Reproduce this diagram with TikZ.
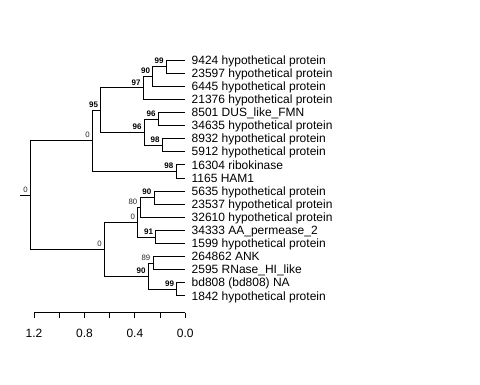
\documentclass[tikz,border=0pt]{standalone}
\usepackage{fontspec}
\setmainfont{Liberation Sans}
\tikzset{
  branch/.style={draw=black, line width=0.9pt},
  leaf/.style={anchor=base west, inner sep=0pt, font=\fontsize{12}{14}\selectfont},
  boot/.style={anchor=south east, inner sep=0pt, font=\fontsize{8}{9}\selectfont\bfseries},
  weak/.style={anchor=south east, inner sep=0pt, text=black!85, font=\fontsize{7.8}{9}\selectfont},
  axlab/.style={anchor=base, inner sep=0pt, font=\fontsize{12}{14}\selectfont}
}

\begin{document}
\begin{tikzpicture}[x=1pt, y=-1pt]
\useasboundingbox (0,0) rectangle (480,384);
%%% leaves %%%

      \foreach \i/\txt in {1/9424 hypothetical protein, 2/23597 hypothetical protein,
        3/6445 hypothetical protein, 4/21376 hypothetical protein, 5/8501 DUS\_like\_FMN,
        6/34635 hypothetical protein, 7/8932 hypothetical protein, 8/5912 hypothetical protein,
        9/16304 ribokinase, 10/1165 HAM1, 11/5635 hypothetical protein,
        12/23537 hypothetical protein, 13/32610 hypothetical protein, 14/34333 AA\_permease\_2,
        15/1599 hypothetical protein, 16/264862 ANK, 17/2595 RNase\_HI\_like,
        18/bd808 (bd808) NA, 19/1842 hypothetical protein}
      {
        \coordinate (t\i) at (185.3, {47+13.1*\i});
        \node[leaf] (l\i) at (191.5, {51.1+13.1*\i}) {\txt};
      }
      %% inner nodes
      \coordinate (a99) at (166.3, 66.65);
      \coordinate (a90) at (152.7, 76.48);
      \coordinate (a97) at (143.3, 87.94);
      \coordinate (b96) at (158.3, 119.05);
      \coordinate (b98) at (162.3, 145.25);
      \coordinate (b96l) at (144.3, 132.15);
      \coordinate (a95) at (100.7, 110.05);
      \coordinate (c98) at (176.0, 171.45);
      \coordinate (u0) at (92.3, 140.75);
      \coordinate (d90) at (154.0, 197.65);
      \coordinate (d80) at (140.0, 207.48);
      \coordinate (d91) at (155.7, 236.95);
      \coordinate (d0) at (137.7, 222.21);
      \coordinate (e89) at (153.0, 263.15);
      \coordinate (e99) at (176.7, 289.35);
      \coordinate (e90) at (148.3, 276.25);
      \coordinate (v0) at (104.3, 249.23);
      \coordinate (root) at (30.3, 194.99);
      \coordinate (stub) at (20.0, 194.99);
      %% branches
      \foreach \p/\c in {a99/t1, a99/t2, a90/a99, a90/t3, a97/a90, a97/t4,
        b96/t5, b96/t6, b98/t7, b98/t8, b96l/b96, b96l/b98, a95/a97, a95/b96l,
        c98/t9, c98/t10, u0/a95, u0/c98,
        d90/t11, d90/t12, d80/d90, d80/t13, d91/t14, d91/t15, d0/d80, d0/d91,
        e89/t16, e89/t17, e99/t18, e99/t19, e90/e89, e90/e99, v0/d0, v0/e90,
        root/u0, root/v0}
        \draw[branch] (\p) |- (\c);
      \draw[branch] (stub) -- (root);
      %% support values
      \foreach \n/\v in {a99/99, a90/90, a97/97, a95/95, b96/96, b96l/96, b98/98,
        c98/98, d90/90, d91/91, e90/90, e99/99}
        \node[boot] (s\n) at ([shift={(-2.5,-2.5)}]\n) {\v};
      \foreach \n/\v in {u0/0, root/0, d80/80, d0/0, v0/0, e89/89}
        \node[weak] (s\n) at ([shift={(-2.5,-2.5)}]\n) {\v};

%%% scale %%%
      \foreach \k in {0,...,6}
        \coordinate (k\k) at ({34+25.22*\k}, 312.7);
      \draw[branch] (k0) -- (k6);
      \foreach \k in {0,...,6}
        \draw[branch] (k\k) -- ++(0,5.6);
      \foreach \k/\v in {0/1.2, 2/0.8, 4/0.4, 6/0.0}
        \node[axlab] (x\k) at ([yshift=-25.2pt]k\k) {\v};

\end{tikzpicture}
\end{document}
